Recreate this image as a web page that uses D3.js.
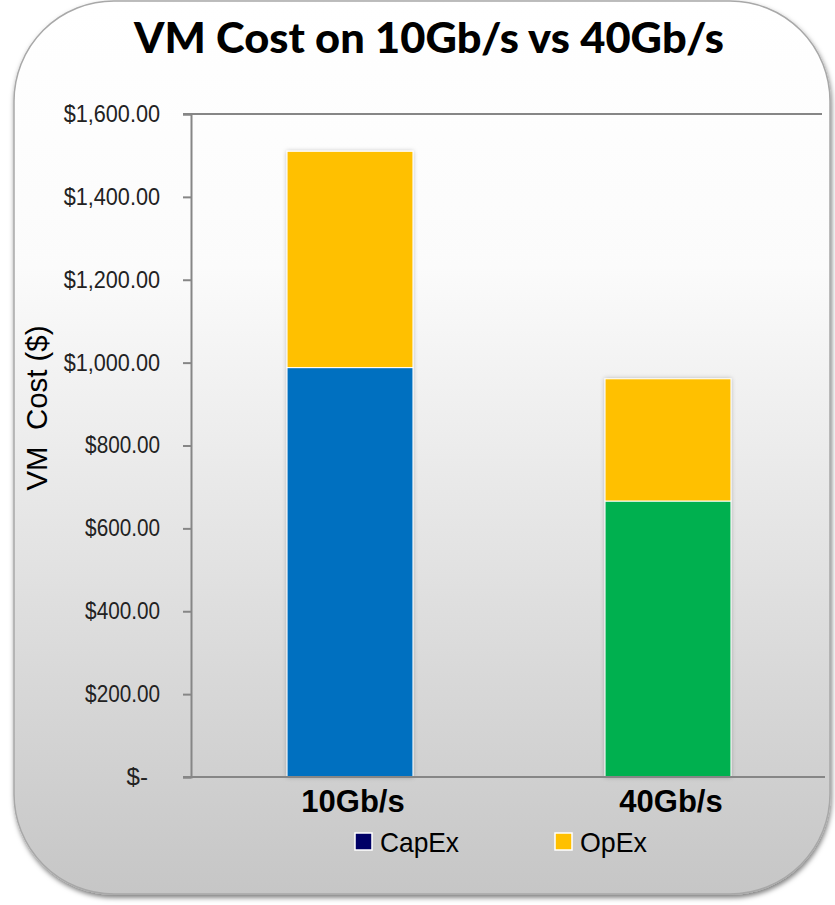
<!DOCTYPE html>
<html lang="en">
<head>
<meta charset="utf-8">
<style>
  body { margin: 0; background: #ffffff; }
  svg { display: block; font-family: "Liberation Sans", Arial, sans-serif; }
  .title { font-family: Lato, "Open Sans", sans-serif; font-weight: 900; fill: #000; }
  .tick-label { fill: #222; }
  .axis-line { stroke: #868686; stroke-width: 2; }
  .cat-label { font-weight: bold; fill: #000; }
  .legend-text { fill: #000; }
</style>
</head>
<body>
<svg width="835" height="905"></svg>
<script src="https://d3js.org/d3.v7.min.js"></script>
<script>
// data
var categories = ["10Gb/s", "40Gb/s"];
var capex = [988, 666];
var opex = [522, 295];
var capexColors = ["#0070c0", "#00b050"];
var opexColor = "#ffc000";
var yTicks = [0, 200, 400, 600, 800, 1000, 1200, 1400, 1600];
var legendItems = [
  { label: "CapEx", color: "#000066", w: 79 },
  { label: "OpEx", color: "#ffc000", w: 67 }
];

var svg = d3.select("svg");
var defs = svg.append("defs");

var grad = defs.append("linearGradient")
    .attr("id", "cardGrad")
    .attr("x1", 0).attr("y1", 0).attr("x2", 0).attr("y2", 1);
grad.append("stop").attr("offset", "0%").attr("stop-color", "#ffffff");
grad.append("stop").attr("offset", "30%").attr("stop-color", "#fbfbfb");
grad.append("stop").attr("offset", "100%").attr("stop-color", "#c6c6c6");

var shadow = defs.append("filter").attr("id", "cardShadow")
    .attr("x", "-5%").attr("y", "-5%").attr("width", "110%").attr("height", "110%");
shadow.append("feDropShadow")
    .attr("dx", 1).attr("dy", 3).attr("stdDeviation", 2.5)
    .attr("flood-color", "#000").attr("flood-opacity", 0.5);

var barShadow = defs.append("filter").attr("id", "barShadow")
    .attr("x", "-10%").attr("y", "-10%").attr("width", "120%").attr("height", "120%");
barShadow.append("feDropShadow")
    .attr("dx", 0).attr("dy", 0).attr("stdDeviation", 2)
    .attr("flood-color", "#000").attr("flood-opacity", 0.25);

// card background
svg.append("rect")
    .attr("x", 14).attr("y", 1)
    .attr("width", 816).attr("height", 893)
    .attr("rx", 100).attr("ry", 100)
    .attr("fill", "url(#cardGrad)")
    .attr("stroke", "#a8a8a8")
    .attr("stroke-width", 1.5)
    .attr("filter", "url(#cardShadow)");

// title
svg.append("text")
    .attr("class", "title")
    .attr("x", 429).attr("y", 53)
    .attr("text-anchor", "middle")
    .attr("font-size", 42)
    .attr("textLength", 590)
    .attr("lengthAdjust", "spacingAndGlyphs")
    .text("VM Cost on 10Gb/s vs 40Gb/s");

// scales
var y = d3.scaleLinear().domain([0, 1600]).range([777, 114]);
var x = d3.scaleBand().domain(categories).range([191, 827]).padding(0);
var barW = x.bandwidth() * 0.396;

// top border line of the plot
svg.append("line").attr("class", "axis-line")
    .attr("x1", 183).attr("x2", 822)
    .attr("y1", y(1600)).attr("y2", y(1600));

// y axis
var fmt = function(d) { return d === 0 ? "$-" : d3.format("$,.2f")(d); };
var yAxis = d3.axisLeft(y)
    .tickValues(yTicks)
    .tickSize(8)
    .tickPadding(23)
    .tickFormat(fmt);

var yg = svg.append("g")
    .attr("transform", "translate(191,0)")
    .call(yAxis);
yg.select(".domain").attr("stroke", "#868686").attr("stroke-width", 2);
yg.selectAll(".tick line").attr("stroke", "#868686").attr("stroke-width", 2);
yg.selectAll(".tick text")
    .attr("class", "tick-label")
    .attr("font-size", 23)
    .attr("textLength", function(d) { return fmt(d).length * 10.7; })
    .attr("lengthAdjust", "spacingAndGlyphs")
    .attr("dx", function(d) { return d === 0 ? -12 : 0; });

// bars
var stacks = categories.map(function(c, i) {
  return { cat: c, capex: capex[i], opex: opex[i], color: capexColors[i] };
});

var bars = svg.append("g").selectAll("g")
    .data(stacks)
  .enter().append("g")
    .attr("filter", "url(#barShadow)");

bars.append("rect")
    .attr("x", function(d) { return x(d.cat) + (x.bandwidth() - barW) / 2; })
    .attr("width", barW)
    .attr("y", function(d) { return y(d.capex); })
    .attr("height", function(d) { return y(0) - y(d.capex); })
    .attr("fill", function(d) { return d.color; })
    .attr("stroke", "#ffffff").attr("stroke-width", 1);

bars.append("rect")
    .attr("x", function(d) { return x(d.cat) + (x.bandwidth() - barW) / 2; })
    .attr("width", barW)
    .attr("y", function(d) { return y(d.capex + d.opex); })
    .attr("height", function(d) { return y(d.capex) - y(d.capex + d.opex); })
    .attr("fill", opexColor)
    .attr("stroke", "#ffffff").attr("stroke-width", 1);

// x axis baseline
svg.append("line").attr("class", "axis-line")
    .attr("x1", 183).attr("x2", 825)
    .attr("y1", y(0)).attr("y2", y(0));

// category labels
svg.append("g").selectAll("text")
    .data(categories)
  .enter().append("text")
    .attr("class", "cat-label")
    .attr("x", function(d) { return x(d) + x.bandwidth() / 2 + 3; })
    .attr("y", 812)
    .attr("text-anchor", "middle")
    .attr("font-size", 31)
    .text(function(d) { return d; });

// y axis title
svg.append("text")
    .attr("transform", "translate(47,408) rotate(-90)")
    .attr("text-anchor", "middle")
    .attr("font-size", 30)
    .attr("fill", "#000")
    .attr("textLength", 165)
    .attr("lengthAdjust", "spacingAndGlyphs")
    .attr("xml:space", "preserve")
    .text("VM  Cost ($)");

// legend
var leg = svg.append("g").selectAll("g")
    .data(legendItems)
  .enter().append("g")
    .attr("transform", function(d, i) { return "translate(" + (355 + i * 200) + ",833)"; });
leg.append("rect")
    .attr("width", 17).attr("height", 17)
    .attr("fill", function(d) { return d.color; })
    .attr("stroke", "#ffffff").attr("stroke-width", 1.5);
leg.append("text")
    .attr("class", "legend-text")
    .attr("x", 25).attr("y", 19)
    .attr("font-size", 28)
    .attr("textLength", function(d) { return d.w; })
    .attr("lengthAdjust", "spacingAndGlyphs")
    .text(function(d) { return d.label; });
</script>
</body>
</html>
